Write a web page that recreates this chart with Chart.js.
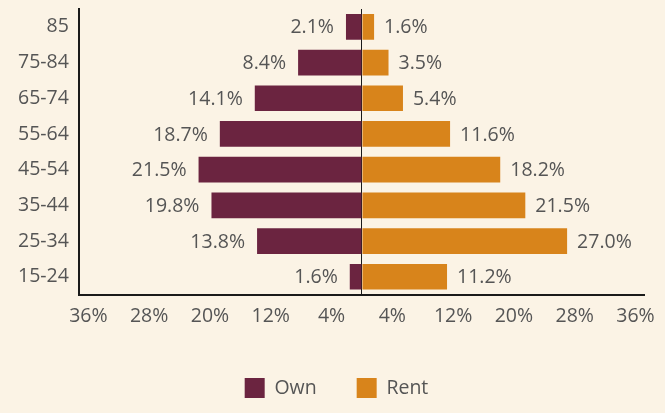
<!DOCTYPE html>
<html>
<head>
<meta charset="utf-8">
<script src="https://cdn.jsdelivr.net/npm/chart.js@4/dist/chart.umd.min.js"></script>
<style>
  html, body { margin: 0; padding: 0; background: #FBF3E5; }
  #wrap { width: 665px; height: 413px; position: relative; }
</style>
</head>
<body>
<div id="wrap"><canvas id="c" width="665" height="413"></canvas></div>
<script>
const categories = ['85', '75-84', '65-74', '55-64', '45-54', '35-44', '25-34', '15-24'];
const ownValues = [2.1, 8.4, 14.1, 18.7, 21.5, 19.8, 13.8, 1.6];
const rentValues = [1.6, 3.5, 5.4, 11.6, 18.2, 21.5, 27.0, 11.2];
const xTickValues = [-36, -28, -20, -12, -4, 0, 4, 12, 20, 28, 36];
const seriesNames = ['Own', 'Rent'];

const OWN_COLOR = '#6B2440';
const RENT_COLOR = '#D8841B';
const TEXT_COLOR = '#555555';
const FONT = '"Open Sans", "Noto Sans", sans-serif';
const FSIZE = 19.5;

const valueLabels = {
  id: 'valueLabels',
  afterDatasetsDraw(chart) {
    const ctx = chart.ctx;
    ctx.save();
    ctx.font = FSIZE + 'px ' + FONT;
    ctx.fillStyle = TEXT_COLOR;
    ctx.textBaseline = 'middle';
    chart.data.datasets.forEach((ds, di) => {
      const meta = chart.getDatasetMeta(di);
      meta.data.forEach((bar, i) => {
        const raw = di === 0 ? ownValues[i] : rentValues[i];
        const txt = raw.toFixed(1) + '%';
        if (di === 0) {
          ctx.textAlign = 'right';
          ctx.fillText(txt, bar.x - 12, bar.y + 1);
        } else {
          ctx.textAlign = 'left';
          ctx.fillText(txt, bar.x + 10, bar.y + 1);
        }
      });
    });
    ctx.restore();
  }
};

const legendShift = {
  id: 'legendShift',
  afterLayout(chart) {
    if (chart.legend) {
      chart.legend.left += 9;
      chart.legend.right += 9;
    }
  }
};

new Chart(document.getElementById('c'), {
  type: 'bar',
  data: {
    labels: categories,
    datasets: [
      { label: seriesNames[0], data: ownValues.map(v => -v), backgroundColor: OWN_COLOR,
        barPercentage: 0.9, categoryPercentage: 0.8 },
      { label: seriesNames[1], data: rentValues, backgroundColor: RENT_COLOR,
        barPercentage: 0.9, categoryPercentage: 0.8 }
    ]
  },
  options: {
    indexAxis: 'y',
    responsive: false,
    animation: false,
    layout: { padding: { top: 9, right: 18, left: 8, bottom: 5 } },
    scales: {
      x: {
        stacked: true,
        min: -37.25,
        max: 37.25,
        afterBuildTicks(scale) {
          scale.ticks = xTickValues.map(v => ({ value: v }));
        },
        border: { display: true, color: '#1a1a1a', width: 2 },
        grid: {
          drawTicks: false,
          lineWidth: 1,
          color: c => (c.tick && c.tick.value === 0) ? '#1a1a1a' : 'rgba(0,0,0,0)'
        },
        ticks: {
          autoSkip: false,
          maxRotation: 0,
          padding: 10,
          color: TEXT_COLOR,
          font: { family: FONT, size: FSIZE },
          callback: v => v === 0 ? '' : Math.abs(v) + '%'
        }
      },
      y: {
        stacked: true,
        afterFit(scale) {
          scale.paddingTop = 0;
          scale.paddingBottom = 0;
        },
        border: { display: true, color: '#1a1a1a', width: 2 },
        grid: { display: false, drawTicks: false },
        ticks: {
          padding: 10,
          color: TEXT_COLOR,
          font: { family: FONT, size: FSIZE }
        }
      }
    },
    plugins: {
      legend: {
        position: 'bottom',
        labels: {
          boxWidth: 20,
          boxHeight: 20,
          padding: 40,
          color: TEXT_COLOR,
          font: { family: FONT, size: FSIZE }
        }
      },
      tooltip: { enabled: false }
    }
  },
  plugins: [valueLabels, legendShift, {
    id: 'bg',
    beforeDraw(chart) {
      const ctx = chart.ctx;
      ctx.save();
      ctx.fillStyle = '#FBF3E5';
      ctx.fillRect(0, 0, chart.width, chart.height);
      ctx.restore();
    }
  }]
});
</script>
</body>
</html>
